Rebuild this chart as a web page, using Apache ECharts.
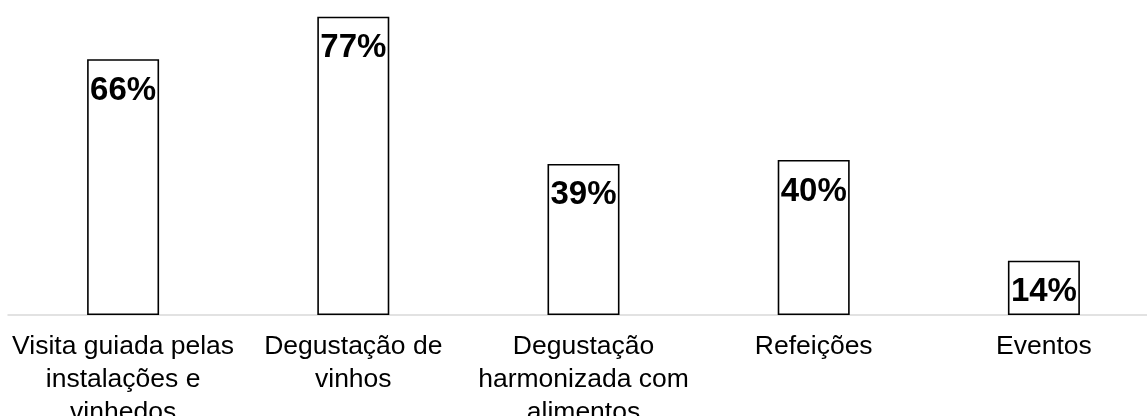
<!DOCTYPE html>
<html>
<head>
<meta charset="utf-8">
<script src="https://cdn.jsdelivr.net/npm/echarts@6/dist/echarts.min.js"></script>
<style>
html,body{margin:0;padding:0;background:#fff;}
#chart{width:1147px;height:416px;}
</style>
</head>
<body>
<div id="chart"></div>
<script>
const categories = [
  "Visita guiada pelas\ninstalações e\nvinhedos",
  "Degustação de\nvinhos",
  "Degustação\nharmonizada com\nalimentos",
  "Refeições",
  "Eventos"
];
const values = [66, 77, 39, 40, 14];

const chart = echarts.init(document.getElementById('chart'));
chart.setOption({
  animation: false,
  backgroundColor: '#ffffff',
  grid: {
    left: 8, right: -12, top: 5, bottom: 101,
    containLabel: false,
    outerBoundsMode: 'none'
  },
  xAxis: {
    type: 'category',
    data: categories,
    axisTick: { show: false },
    axisLine: { show: true, lineStyle: { color: '#d9d9d9', width: 1.5 } },
    axisLabel: {
      interval: 0,
      margin: 15,
      fontFamily: 'Liberation Sans, Arial, sans-serif',
      fontSize: 26.5,
      lineHeight: 33,
      color: '#000000',
      align: 'center'
    }
  },
  yAxis: {
    type: 'value',
    min: 0,
    max: 80,
    show: false,
    splitLine: { show: false }
  },
  series: [{
    type: 'bar',
    data: values,
    barWidth: 72,
    itemStyle: { color: '#ffffff', borderColor: '#000000', borderWidth: 1.6 },
    label: {
      show: true,
      position: 'insideTop',
      distance: 15,
      formatter: '{c}%',
      fontFamily: 'Liberation Sans, Arial, sans-serif',
      fontWeight: 'bold',
      fontSize: 33,
      color: '#000000'
    }
  }]
});
</script>
</body>
</html>
